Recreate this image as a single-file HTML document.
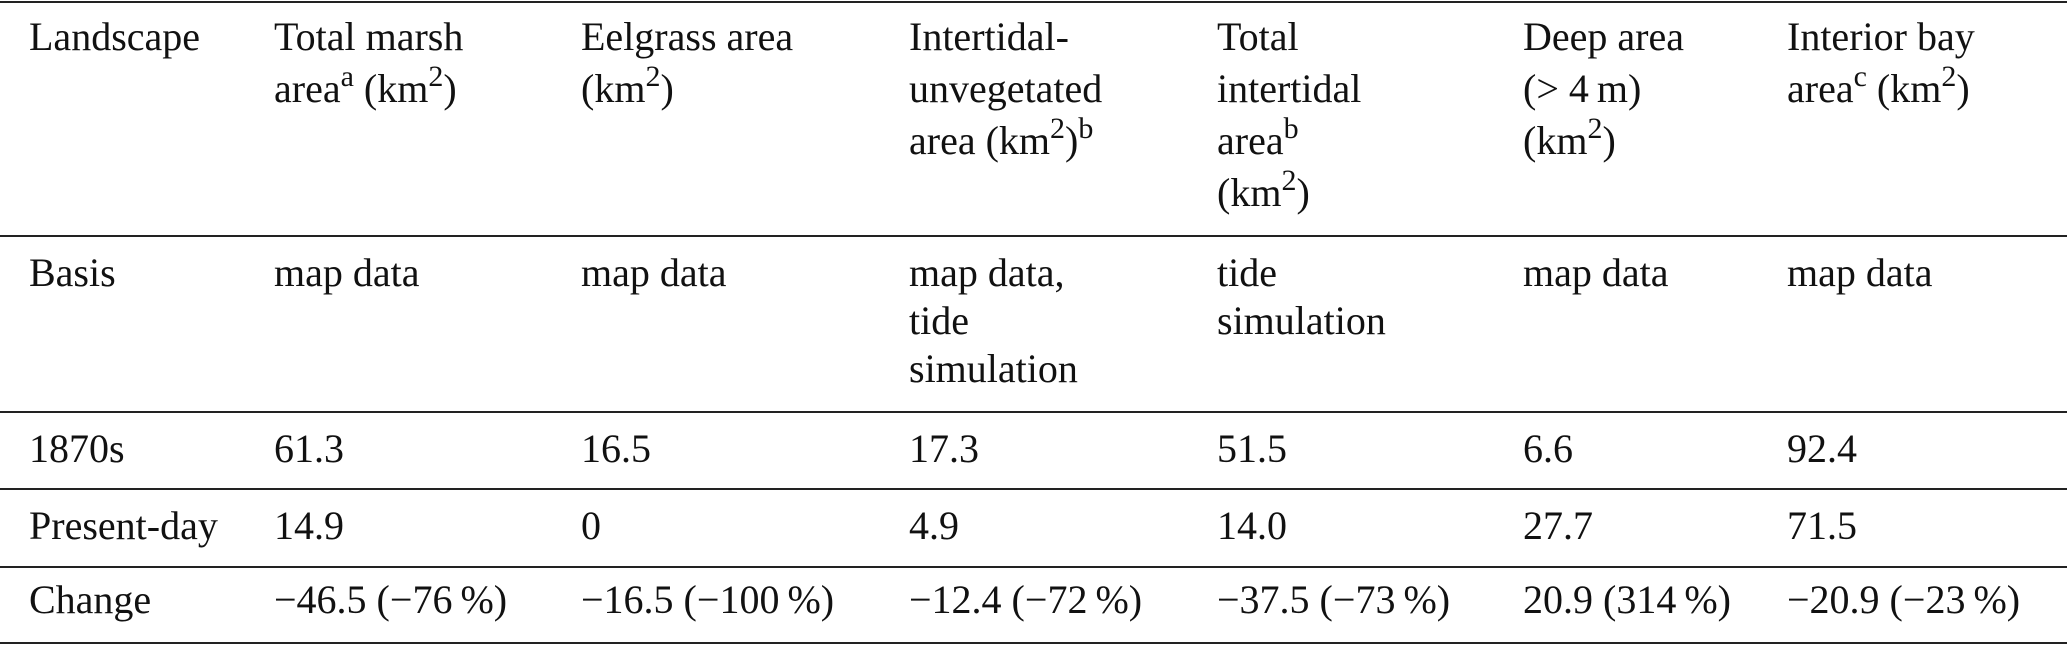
<!DOCTYPE html>
<html><head><meta charset="utf-8"><style>
html,body{margin:0;padding:0;background:#fff;}
body{width:2067px;height:645px;position:relative;overflow:hidden;font-family:"Liberation Serif","Times New Roman",serif;font-size:40px;color:#111;}
.l{position:absolute;left:0;width:2067px;height:2px;background:#222;}
.c{position:absolute;white-space:nowrap;}
.h{line-height:52px;top:10.5px;}
.b{line-height:48px;}
sup{font-size:30px;vertical-align:16px;line-height:0;}
</style></head><body>
<div class="l" style="top:1px"></div>
<div class="l" style="top:235px"></div>
<div class="l" style="top:411px"></div>
<div class="l" style="top:488px"></div>
<div class="l" style="top:566px"></div>
<div class="l" style="top:642px"></div>

<div class="c h" style="left:29px">Landscape</div>
<div class="c h" style="left:274px">Total marsh<br>area<sup>a</sup> (km<sup>2</sup>)</div>
<div class="c h" style="left:581px">Eelgrass area<br>(km<sup>2</sup>)</div>
<div class="c h" style="left:909px">Intertidal-<br>unvegetated<br>area (km<sup>2</sup>)<sup>b</sup></div>
<div class="c h" style="left:1217px">Total<br>intertidal<br>area<sup>b</sup><br>(km<sup>2</sup>)</div>
<div class="c h" style="left:1523px">Deep area<br>(&gt; 4&#8201;m)<br>(km<sup>2</sup>)</div>
<div class="c h" style="left:1787px">Interior bay<br>area<sup>c</sup> (km<sup>2</sup>)</div>

<div class="c b" style="top:248.5px;left:29px">Basis</div>
<div class="c b" style="top:248.5px;left:274px">map data</div>
<div class="c b" style="top:248.5px;left:581px">map data</div>
<div class="c b" style="top:248.5px;left:909px">map data,<br>tide<br>simulation</div>
<div class="c b" style="top:248.5px;left:1217px">tide<br>simulation</div>
<div class="c b" style="top:248.5px;left:1523px">map data</div>
<div class="c b" style="top:248.5px;left:1787px">map data</div>

<div class="c b" style="top:424.5px;left:29px">1870s</div>
<div class="c b" style="top:424.5px;left:274px">61.3</div>
<div class="c b" style="top:424.5px;left:581px">16.5</div>
<div class="c b" style="top:424.5px;left:909px">17.3</div>
<div class="c b" style="top:424.5px;left:1217px">51.5</div>
<div class="c b" style="top:424.5px;left:1523px">6.6</div>
<div class="c b" style="top:424.5px;left:1787px">92.4</div>

<div class="c b" style="top:501.5px;left:29px">Present-day</div>
<div class="c b" style="top:501.5px;left:274px">14.9</div>
<div class="c b" style="top:501.5px;left:581px">0</div>
<div class="c b" style="top:501.5px;left:909px">4.9</div>
<div class="c b" style="top:501.5px;left:1217px">14.0</div>
<div class="c b" style="top:501.5px;left:1523px">27.7</div>
<div class="c b" style="top:501.5px;left:1787px">71.5</div>

<div class="c b" style="top:575.5px;left:29px">Change</div>
<div class="c b" style="top:575.5px;left:274px">−46.5 (−76&#8201;%)</div>
<div class="c b" style="top:575.5px;left:581px">−16.5 (−100&#8201;%)</div>
<div class="c b" style="top:575.5px;left:909px">−12.4 (−72&#8201;%)</div>
<div class="c b" style="top:575.5px;left:1217px">−37.5 (−73&#8201;%)</div>
<div class="c b" style="top:575.5px;left:1523px">20.9 (314&#8201;%)</div>
<div class="c b" style="top:575.5px;left:1787px">−20.9 (−23&#8201;%)</div>
</body></html>
